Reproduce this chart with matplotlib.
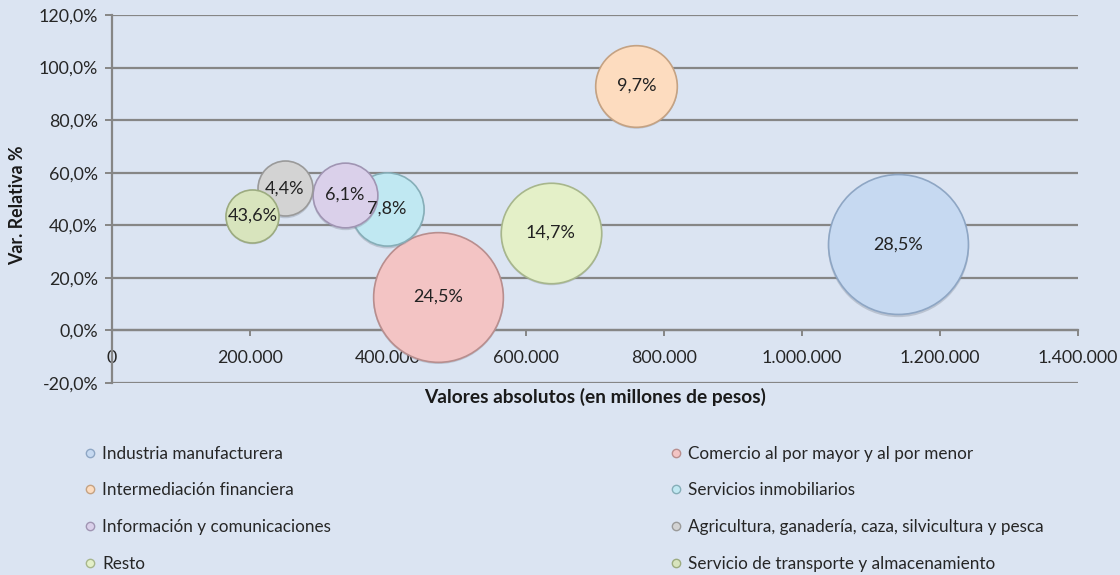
import matplotlib.pyplot as plt
from matplotlib.ticker import FuncFormatter, MultipleLocator
from matplotlib.lines import Line2D

plt.rcParams['font.family'] = ['Lato', 'DejaVu Sans']

sectores = ['Industria manufacturera', 'Comercio al por mayor y al por menor',
            'Intermediación financiera', 'Servicios inmobiliarios',
            'Información y comunicaciones',
            'Agricultura, ganadería, caza, silvicultura y pesca',
            'Resto', 'Servicio de transporte y almacenamiento']
valores = [1139000, 472000, 760000, 398500, 337700, 250000, 636000, 203600]
var_relativa = [32.8, 12.9, 93.1, 46.2, 51.5, 54.0, 37.1, 43.6]
participacion = [28.5, 24.5, 9.7, 7.8, 6.1, 4.4, 14.7, 4.1]
etiquetas = ['28,5%', '24,5%', '9,7%', '7,8%', '6,1%', '4,4%', '14,7%', '43,6%']

colores = ['#c6d9f1', '#f3c4c4', '#fddcbf', '#c0e8f2', '#dad0ea', '#d3d3d3', '#e4f0c8', '#d8e4bd']
bordes = ['#8ea6c4', '#b88e8e', '#c4a283', '#86aeb8', '#a095b3', '#9a9a9a', '#a7b68c', '#9cab80']
fondo = '#dbe4f2'
gris = '#868686'

fig = plt.figure(figsize=(11.2, 5.75), dpi=100)
fig.patch.set_facecolor(fondo)
ax = fig.add_axes([0.1, 1 - 383 / 575, (1078 - 112) / 1120, (383 - 15) / 575])
ax.set_facecolor(fondo)

# burbujas (area proporcional a la participacion)
for i in range(len(sectores)):
    s = 356 * participacion[i]
    ax.scatter(valores[i], var_relativa[i] - 0.6, s=s * 1.02, color='#7f8796', alpha=0.35,
               lw=0, zorder=3 + i * 0.1)
    ax.scatter(valores[i], var_relativa[i], s=s, color=colores[i], edgecolor=bordes[i],
               lw=1.2, zorder=3.05 + i * 0.1)
    ax.text(valores[i], var_relativa[i], etiquetas[i], ha='center', va='center',
            fontsize=13, color='#222222', zorder=5)

ax.set_xlim(0, 1400000)
ax.set_ylim(-20, 120)
ax.xaxis.set_major_locator(MultipleLocator(200000))
ax.yaxis.set_major_locator(MultipleLocator(20))
ax.xaxis.set_major_formatter(FuncFormatter(lambda v, p: '{:,.0f}'.format(v).replace(',', '.')))
ax.yaxis.set_major_formatter(FuncFormatter(lambda v, p: '{:.1f}%'.format(v).replace('.', ',')))

ax.grid(axis='y', color=gris, lw=1.6)
ax.set_axisbelow(True)
for sp in ['top', 'right']:
    ax.spines[sp].set_visible(False)
ax.spines['bottom'].set_position(('data', 0))
ax.spines['bottom'].set_color(gris)
ax.spines['bottom'].set_linewidth(1.6)
ax.spines['left'].set_color(gris)
ax.spines['left'].set_linewidth(1.6)
ax.tick_params(axis='both', colors=gris, labelcolor='#262626', labelsize=12.8, width=1.4)
ax.tick_params(axis='x', length=4, pad=10)
ax.tick_params(axis='y', length=5, pad=5)

fig.text(595 / 1120, 1 - 397 / 575, 'Valores absolutos (en millones de pesos)', ha='center',
         va='center', fontsize=13.8, fontweight='bold', color='#1a1a1a')
fig.text(18 / 1120, 1 - 205 / 575, 'Var. Relativa %', ha='center', va='center',
         rotation=90, fontsize=12.8, fontweight='bold', color='#1a1a1a')

# leyenda en dos columnas
manijas = [Line2D([], [], ls='', marker='o', markersize=6, markerfacecolor=colores[i],
                  markeredgecolor=bordes[i]) for i in range(len(sectores))]
izq = [0, 2, 4, 6]
der = [1, 3, 5, 7]
for grupo, x0 in [(izq, 75 / 1120), (der, 661 / 1120)]:
    fig.legend([manijas[i] for i in grupo], [sectores[i] for i in grupo],
               loc='upper left', bbox_to_anchor=(x0, 1 - 437 / 575), frameon=False,
               fontsize=12.3, labelspacing=1.22, handlelength=0.8, handletextpad=0.3,
               borderpad=0, labelcolor='#262626')

fig.savefig('out.png', dpi=100, facecolor=fondo)
